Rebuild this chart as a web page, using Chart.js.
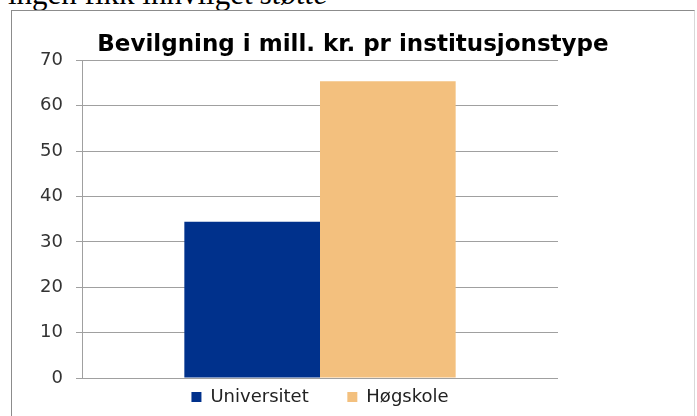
<!DOCTYPE html>
<html>
<head>
<meta charset="utf-8">
<script src="https://cdn.jsdelivr.net/npm/chart.js@4/dist/chart.umd.min.js"></script>
<style>
  html, body { margin: 0; padding: 0; background: #fff; overflow: hidden; }
  body { width: 697px; height: 416px; position: relative; }
  #toptext {
    position: absolute; left: 8px; top: -22px; white-space: nowrap;
    font-family: "Liberation Serif", serif; font-size: 31px; line-height: 31px; color: #000;
  }
  #frame {
    position: absolute; left: 11px; top: 10px; width: 682px; height: 420px;
    border: 1px solid #8c8c8c; border-right-color: #d8d8d8;
  }
  #wrap { position: absolute; left: 0; top: 0; width: 697px; height: 416px; }
</style>
</head>
<body>
<div id="toptext">ingen fikk innvilget <i>støtte</i></div>
<div id="frame"></div>
<div id="wrap"><canvas id="bevilgning" width="697" height="416"></canvas></div>
<script>
var categories = [''];
var seriesNames = ['Universitet', 'Høgskole'];
var universitet = [34.4];
var hogskole = [65.4];
var yTicks = [0, 10, 20, 30, 40, 50, 60, 70];

var ctx = document.getElementById('bevilgning').getContext('2d');
var chart = new Chart(ctx, {
    type: 'bar',
    data: {
        labels: categories,
        datasets: [{
            label: seriesNames[0],
            data: universitet,
            backgroundColor: '#00318c',
            yAxisID: 'y'
        }, {
            label: seriesNames[1],
            data: hogskole,
            backgroundColor: '#f3c07e',
            yAxisID: 'y'
        }]
    },
    options: {
        responsive: false,
        animation: false,
        layout: {
            padding: { left: 9, right: 0, top: 0, bottom: 0 }
        },
        datasets: {
            bar: { barPercentage: 1, categoryPercentage: 0.57 }
        },
        plugins: {
            title: {
                display: true,
                text: 'Bevilgning i mill. kr. pr institusjonstype',
                color: '#000',
                font: { family: 'DejaVu Sans', size: 23, weight: 'bold', lineHeight: 1.1 },
                padding: { top: 32, bottom: 3 }
            },
            legend: {
                display: true,
                position: 'bottom',
                fullSize: false,
                labels: {
                    color: '#222',
                    font: { family: 'DejaVu Sans', size: 18 },
                    boxWidth: 10,
                    boxHeight: 10,
                    padding: 10,
                    generateLabels: function (c) {
                        var items = Chart.defaults.plugins.legend.labels.generateLabels(c);
                        // wider gap between the two entries, as in the original
                        items[0].text = items[0].text + '     ';
                        return items;
                    }
                }
            },
            tooltip: { enabled: false }
        },
        scales: {
            x: {
                display: false
            },
            y: {
                min: 0,
                max: 70,
                afterBuildTicks: function (s) {
                    s.ticks = yTicks.map(function (v) { return { value: v }; });
                },
                afterFit: function (s) { s.width = 73; },
                grid: { color: '#a0a0a0', tickLength: 6, lineWidth: 1 },
                border: { display: true, color: '#a0a0a0' },
                ticks: {
                    color: '#333',
                    padding: 13,
                    font: { family: 'DejaVu Sans', size: 18 }
                }
            },
            y2: {
                position: 'right',
                display: true,
                grid: { display: false, drawTicks: false },
                border: { display: false },
                ticks: { display: false },
                afterFit: function (s) { s.width = 139; }
            }
        }
    }
});
</script>
</body>
</html>
